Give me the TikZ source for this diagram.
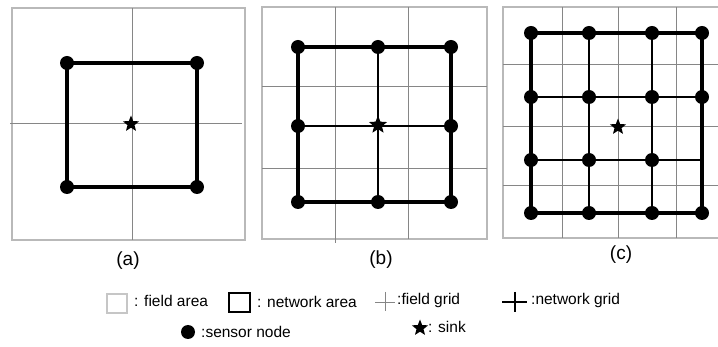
\documentclass[tikz,border=0pt]{standalone}
\usepackage{fontspec}
\setmainfont{Liberation Sans}
\usetikzlibrary{shapes.geometric}

\tikzset{
  fieldarea/.style={draw=gray!55,line width=1.4pt},
  fieldgrid/.style={draw=gray!95,line width=0.9pt},
  netarea/.style={draw=black,line width=3.2pt,line join=miter},
  netgrid/.style={draw=black,line width=2.2pt},
  sensor/.style={circle,fill=black,inner sep=0pt,minimum size=14pt},
  sink/.style={star,star points=5,star point ratio=2.3,fill=black,inner sep=0pt,minimum size=17pt},
  caption/.style={font=\fontsize{19pt}{21pt}\selectfont},
  legend/.style={font=\fontsize{15.5pt}{17pt}\selectfont,anchor=west,inner sep=0pt}
}

\begin{document}
\begin{tikzpicture}[x=1pt,y=-1pt]
\useasboundingbox (0,0) rectangle (718,347);
\fill[white] (0,0) rectangle (718,347);

% (a)
\draw[fieldarea] (12,8) rectangle (245,240);
\draw[fieldgrid] (10,123) -- (242,123);
\draw[fieldgrid] (132,8) -- (132,240);
\node[sensor] (a1) at (67,63) {};
\node[sensor] (a2) at (197,63) {};
\node[sensor] (a3) at (197,187) {};
\node[sensor] (a4) at (67,187) {};
\draw[netarea] (a1.center) -- (a2.center) -- (a3.center) -- (a4.center) -- cycle;
\node[sink] (sa) at (131,124) {};
\node[caption] (capa) at (128,261) {(a)};

% (b)
\draw[fieldarea] (262,7) rectangle (487,239);
\draw[fieldgrid] (335,7) -- (335,243);
\draw[fieldgrid] (408,7) -- (408,239);
\draw[fieldgrid] (262,86) -- (487,86);
\draw[fieldgrid] (262,168) -- (487,168);
\foreach \c/\x in {1/298,2/378,3/451}
  \foreach \r/\y in {1/47,3/202}
    \node[sensor] (b\r\c) at (\x,\y) {};
\node[sensor] (b21) at (298,126) {};
\node[sensor] (b23) at (451,126) {};
\draw[netgrid] (b21.center) -- (b23.center);
\draw[netgrid] (b12.center) -- (b32.center);
\draw[netarea] (b11.center) -- (b13.center) -- (b33.center) -- (b31.center) -- cycle;
\node[sink,minimum size=19pt] (sb) at (378,125) {};
\node[caption] (capb) at (381,260) {(b)};

% (c)
\draw[fieldarea] (718,7) -- (503,7) -- (503,238) -- (718,238);
\foreach \x in {562,618,676}
  \draw[fieldgrid] (\x,7) -- (\x,238);
\foreach \y in {64,126,185}
  \draw[fieldgrid] (503,\y) -- (718,\y);
\foreach \c/\x in {1/531,2/589,3/652,4/702}
  \foreach \r/\y in {1/33,2/97,4/213}
    \node[sensor] (c\r\c) at (\x,\y) {};
\foreach \c/\x in {1/531,2/589,3/652}
  \node[sensor] (c3\c) at (\x,160) {};
\coordinate (c34) at (702,160);
\draw[netgrid] (c21.center) -- (c24.center);
\draw[netgrid] (c31.center) -- (c34);
\draw[netgrid] (c12.center) -- (c42.center);
\draw[netgrid] (c13.center) -- (c43.center);
\draw[netarea] (c11.center) -- (c14.center) -- (c44.center) -- (c41.center) -- cycle;
\node[sink] (sc) at (618,127) {};
\node[caption] (capc) at (621,255) {(c)};

% legend
\draw[fieldarea,line width=1.1pt,draw=gray!45] (107,294) rectangle (127,313);
\node[legend] (lfa) at (134,301) {: field area};
\draw[netarea,line width=2.8pt] (229,293) rectangle (250,312);
\node[legend] (lna) at (257,302) {: network area};
\draw[fieldgrid,line width=0.6pt] (375,302) -- (395,302) (385,292) -- (385,311);
\node[legend] (lfg) at (397,300) {:field grid};
\draw[black,line width=1.6pt] (502,302) -- (527,302) (515,292) -- (515,312);
\node[legend] (lng) at (531,300) {:network grid};
\node[sensor] (lsn) at (188,332) {};
\node[legend] (lsnt) at (201,332) {:sensor node};
\node[sink] (lsk) at (420,328) {};
\node[legend] (lskt) at (428,327) {: sink};
\end{tikzpicture}
\end{document}
